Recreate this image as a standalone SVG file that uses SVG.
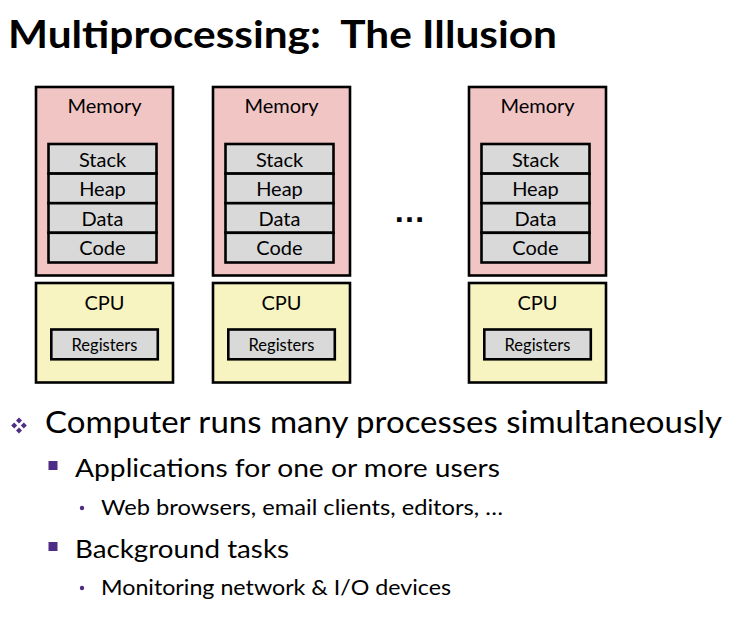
<svg xmlns="http://www.w3.org/2000/svg" width="740" height="617" viewBox="0 0 740 617">
  <style>
    text { font-family: "Lato", "Liberation Sans", sans-serif; fill: #000; }
    .title { font-size: 38px; font-weight: bold; white-space: pre; }
    .lbl { font-size: 20px; text-anchor: middle; }
    .reg { font-size: 16.5px; text-anchor: middle; }
    .mem { fill: #F2C5C5; stroke: #000; stroke-width: 2.6; }
    .cpu { fill: #F7F4C1; stroke: #000; stroke-width: 2.6; }
    .cell { fill: #D9D9D9; stroke: #000; stroke-width: 2.6; }
    .b1 { font-size: 31px; }
    .b2 { font-size: 25px; }
    .b3 { font-size: 20.5px; }
    .purple { fill: #4E2D86; }
  </style>
  <defs>
    <!-- one process: memory image above its own CPU -->
    <g id="proc">
      <rect class="mem" x="0" y="87" width="137" height="188.5"/>
      <text class="lbl" x="68.5" y="112.5">Memory</text>
      <rect class="cell" x="12.5" y="144" width="108" height="29.6"/>
      <rect class="cell" x="12.5" y="173.6" width="108" height="29.6"/>
      <rect class="cell" x="12.5" y="203.2" width="108" height="29.6"/>
      <rect class="cell" x="12.5" y="232.8" width="108" height="29.7"/>
      <text class="lbl" x="66.5" y="166.5">Stack</text>
      <text class="lbl" x="66.5" y="196">Heap</text>
      <text class="lbl" x="66.5" y="225.5">Data</text>
      <text class="lbl" x="66.5" y="254.5">Code</text>
      <rect class="cpu" x="0" y="283" width="137" height="99.5"/>
      <text class="lbl" x="68.5" y="310">CPU</text>
      <rect class="cell" x="15.3" y="329.5" width="106.5" height="29.8"/>
      <text class="reg" x="68.5" y="350.5">Registers</text>
    </g>
  </defs>

  <text class="title" x="8" y="48" textLength="549" lengthAdjust="spacingAndGlyphs" xml:space="preserve">Multiprocessing:  The Illusion</text>

  <g id="process1"><use href="#proc" x="36"/></g>
  <g id="process2"><use href="#proc" x="213"/></g>
  <g id="process3"><use href="#proc" x="469"/></g>

  <text x="409.5" y="222" style="font-family: 'Liberation Sans', sans-serif; font-size: 32px; font-weight: bold; text-anchor: middle;">…</text>

  <g id="connectors"/>

  <!-- bullet list -->
  <g class="purple">
    <path d="M19 417.5 l3 3 l-3 3 l-3 -3 z"/>
    <path d="M14.2 422.5 l3 3 l-3 3 l-3 -3 z"/>
    <path d="M23.8 422.5 l3 3 l-3 3 l-3 -3 z"/>
    <path d="M19 427.5 l3 3 l-3 3 l-3 -3 z"/>
    <rect x="48.5" y="461" width="9" height="9"/>
    <rect x="48.5" y="542" width="9" height="9"/>
    <circle cx="82" cy="508" r="2.2"/>
    <circle cx="82" cy="588" r="2.2"/>
  </g>
  <text class="b1" x="45" y="433" textLength="677" lengthAdjust="spacingAndGlyphs">Computer runs many processes simultaneously</text>
  <text class="b2" x="75" y="477" textLength="425" lengthAdjust="spacingAndGlyphs">Applications for one or more users</text>
  <text class="b3" x="101" y="514.5" textLength="402" lengthAdjust="spacingAndGlyphs">Web browsers, email clients, editors, …</text>
  <text class="b2" x="75" y="558" textLength="214" lengthAdjust="spacingAndGlyphs">Background tasks</text>
  <text class="b3" x="101" y="594.5" textLength="350" lengthAdjust="spacingAndGlyphs">Monitoring network &amp; I/O devices</text>
</svg>
